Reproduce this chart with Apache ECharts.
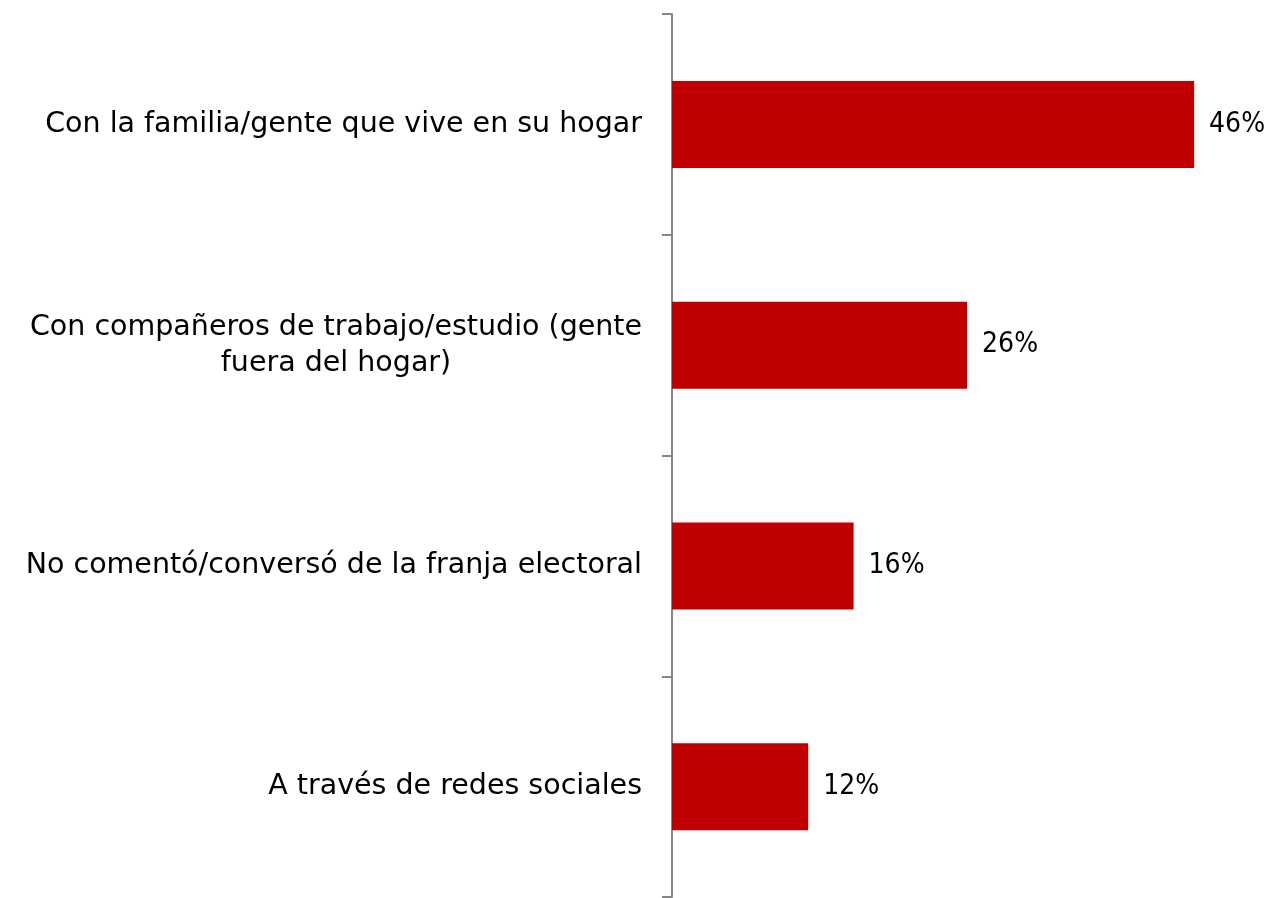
<!DOCTYPE html>
<html>
<head>
<meta charset="utf-8">
<script src="https://cdn.jsdelivr.net/npm/echarts@6/dist/echarts.min.js"></script>
<style>
    html, body { margin: 0; padding: 0; background: #fff; }
    #chart { width: 1268px; height: 898px; }
</style>
</head>
<body>
<div id="chart"></div>
<script>
    // categorias (de abajo hacia arriba)
    var categories = [
        'A través de redes sociales',
        'No comentó/conversó de la franja electoral',
        'Con compañeros de trabajo/estudio (gente\nfuera del hogar)',
        'Con la familia/gente que vive en su hogar'
    ];
    var values = [12, 16, 26, 46];

    // etiqueta de dos lineas: centrada como en el original
    var catData = categories.map(function (c) {
        if (c.indexOf('\n') < 0) return c;
        return { value: c, textStyle: { align: 'center', padding: [0, 612, 0, 0] } };
    });

    var chart = echarts.init(document.getElementById('chart'));
    chart.setOption({
        animation: false,
        textStyle: { fontFamily: 'DejaVu Sans' },
        grid: { left: 672, right: 28.5, top: 14, bottom: 1 },
        xAxis: {
            type: 'value',
            min: 0,
            max: 50,
            show: false
        },
        yAxis: {
            type: 'category',
            data: catData,
            axisLine: { lineStyle: { color: '#868686', width: 2 } },
            axisTick: { show: true, length: 10, lineStyle: { color: '#868686', width: 2 } },
            axisLabel: {
                margin: 30,
                fontSize: 28.5,
                color: '#000',
                align: 'right',
                lineHeight: 36
            }
        },
        series: [{
            type: 'bar',
            data: values,
            barWidth: 87,
            itemStyle: { color: '#c00000' },
            label: {
                show: true,
                position: 'right',
                distance: 15,
                fontSize: 28,
                fontFamily: 'DejaVu Sans Condensed',
                color: '#000',
                formatter: '{c}%'
            }
        }]
    });
</script>
</body>
</html>
